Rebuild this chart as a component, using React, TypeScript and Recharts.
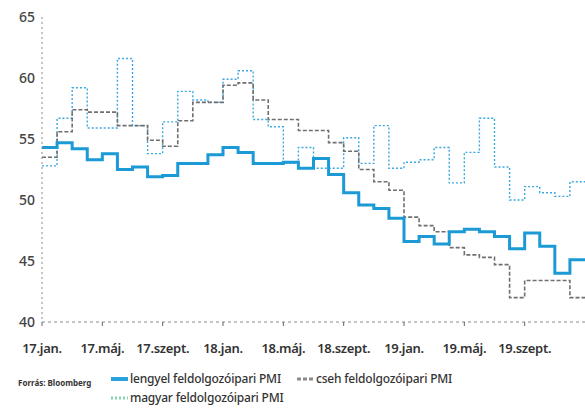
import React from "react";
import { ComposedChart, Line, XAxis, YAxis } from "recharts";

// Monthly categories, 2017.01 - 2019.12
const MONTHS = [
  "2017.01", "2017.02", "2017.03", "2017.04", "2017.05", "2017.06",
  "2017.07", "2017.08", "2017.09", "2017.10", "2017.11", "2017.12",
  "2018.01", "2018.02", "2018.03", "2018.04", "2018.05", "2018.06",
  "2018.07", "2018.08", "2018.09", "2018.10", "2018.11", "2018.12",
  "2019.01", "2019.02", "2019.03", "2019.04", "2019.05", "2019.06",
  "2019.07", "2019.08", "2019.09", "2019.10", "2019.11", "2019.12",
];

// lengyel (Polish) manufacturing PMI
const POLISH = [
  54.3, 54.7, 54.2, 53.3, 53.8, 52.5, 52.7, 51.9, 52.0, 53.0, 53.0, 53.7,
  54.3, 53.9, 53.0, 53.0, 53.1, 52.6, 53.4, 52.1, 50.6, 49.6, 49.3, 48.5,
  46.6, 47.0, 46.4, 47.4, 47.6, 47.4, 47.0, 46.0, 47.3, 46.2, 44.0, 45.1,
];

// cseh (Czech) manufacturing PMI
const CZECH = [
  53.5, 55.6, 57.4, 57.2, 57.2, 56.1, 56.1, 54.9, 54.4, 56.5, 58.0, 58.0,
  59.4, 59.6, 58.2, 56.6, 56.6, 55.7, 55.7, 54.7, 54.0, 52.5, 51.5, 50.8,
  48.6, 47.9, 47.4, 46.1, 45.5, 45.3, 44.7, 42.0, 43.4, 43.4, 43.4, 42.0,
];

// magyar (Hungarian) manufacturing PMI
const HUNGARIAN = [
  52.8, 56.7, 59.2, 55.9, 55.9, 61.6, 56.1, 53.8, 56.4, 58.9, 58.2, 58.0,
  59.9, 60.6, 56.6, 56.0, 53.0, 54.3, 52.6, 52.6, 55.1, 53.0, 56.1, 52.6,
  53.1, 53.3, 54.3, 51.4, 53.9, 56.7, 52.7, 50.0, 51.1, 50.6, 50.3, 51.5,
];

const TICK_MONTHS = ["2017.01", "2017.05", "2017.09", "2018.01", "2018.05", "2018.09", "2019.01", "2019.05", "2019.09"];
const TICK_LABELS = ["17.jan.", "17.máj.", "17.szept.", "18.jan.", "18.máj.", "18.szept.", "19.jan.", "19.máj.", "19.szept."];
const Y_TICKS = [40, 45, 50, 55, 60, 65];

const SERIES = [
  { key: "pl", name: "lengyel feldolgozóipari PMI", color: "#1b9ad6", legend: "#2aa3dc", dash: undefined, width: 3 },
  { key: "cz", name: "cseh feldolgozóipari PMI", color: "#6f6f6f", legend: "#8a8a8a", dash: "4 2", width: 1.6 },
  { key: "hu", name: "magyar feldolgozóipari PMI", color: "#3aa8e0", legend: "#86d6b4", dash: "2 2", width: 1.4 },
];

const FONT = "'Noto Sans', 'Open Sans', sans-serif";

// rows for the chart; the extra closing row lets the last month's step run to the edge
const rows = MONTHS.map((m, i) => ({ idx: i, month: m, pl: POLISH[i], cz: CZECH[i], hu: HUNGARIAN[i] }));
rows.push({ idx: MONTHS.length, month: "", pl: POLISH[35], cz: CZECH[35], hu: HUNGARIAN[35] });

const tickIdx = TICK_MONTHS.map((m) => MONTHS.indexOf(m));

const LegendBox = () => (
  <div
    style={{
      position: "absolute",
      left: 111,
      top: 372,
      width: 400,
      display: "flex",
      flexWrap: "wrap",
      rowGap: 5,
      fontFamily: FONT,
      fontSize: 12,
      lineHeight: "14px",
      fontWeight: 500,
      letterSpacing: -0.2,
      color: "#333",
    }}
  >
    {SERIES.map((s) => (
      <div key={s.key} style={{ display: "flex", alignItems: "center", marginRight: 16 }}>
        <svg width={17} height={8} style={{ marginRight: 2 }}>
          <line x1={0} y1={4} x2={17} y2={4} stroke={s.legend} strokeWidth={s.key === "pl" ? 4 : 3} strokeDasharray={s.dash} />
        </svg>
        <span>{s.name}</span>
      </div>
    ))}
  </div>
);

export default function App() {
  return (
    <div style={{ position: "absolute", left: 0, top: 0, width: 585, height: 408, background: "#fff" }}>
      <ComposedChart width={585} height={408} data={rows} margin={{ top: 17, right: 0, bottom: 56, left: 0 }}>
        <XAxis
          dataKey="idx"
          type="number"
          domain={[0, 36]}
          ticks={tickIdx}
          interval={0}
          height={30}
          tickFormatter={(v: number) => TICK_LABELS[tickIdx.indexOf(v)] ?? ""}
          stroke="#8a8a8a"
          strokeDasharray="3 3"
          tickLine={{ stroke: "#666", strokeDasharray: "none" }}
          tickSize={4}
          tickMargin={18}
          tick={{ fontSize: 13, fontWeight: 600, fill: "#333", fontFamily: FONT, letterSpacing: -0.3 }}
        />
        <YAxis
          type="number"
          domain={[40, 65]}
          ticks={Y_TICKS}
          width={42}
          stroke="#8a8a8a"
          strokeDasharray="2 3"
          tickLine={false}
          tickSize={0}
          tickMargin={7}
          tick={{ fontSize: 14, fontWeight: 500, fill: "#444", fontFamily: FONT }}
        />
        {SERIES.slice().reverse().map((s) => (
          <Line
            key={s.key}
            dataKey={s.key}
            name={s.name}
            type="stepAfter"
            stroke={s.color}
            strokeWidth={s.width}
            strokeDasharray={s.dash}
            dot={false}
            activeDot={false}
            isAnimationActive={false}
          />
        ))}
      </ComposedChart>
      <div
        style={{
          position: "absolute",
          left: 18,
          top: 377,
          fontFamily: FONT,
          fontSize: 8,
          fontWeight: 700,
          color: "#333",
        }}
      >
        Forrás: Bloomberg
      </div>
      <LegendBox />
    </div>
  );
}
